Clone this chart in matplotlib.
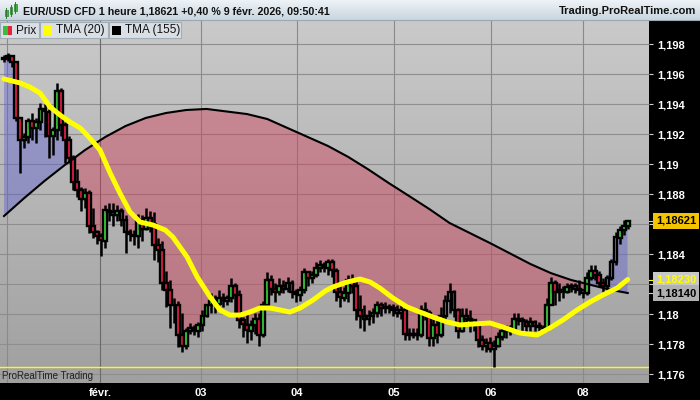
import matplotlib
matplotlib.use("Agg")
import matplotlib.pyplot as plt
import matplotlib.transforms as mtransforms
import numpy as np
from matplotlib.colors import LinearSegmentedColormap
from matplotlib.patches import Polygon, Rectangle

plt.rcParams["font.family"] = ["Liberation Sans", "DejaVu Sans"]

W, H = 700, 400

# hourly EUR/USD candles (open = previous close)
first_open = 1.1970
close = [
    1.1971, 1.1972, 1.1968, 1.1931, 1.1916, 1.1918, 1.1929, 1.1924, 1.1928, 1.1937,
    1.1935, 1.1919, 1.1923, 1.1949, 1.1926, 1.1916, 1.1904, 1.1888, 1.1883, 1.1877,
    1.1881, 1.1859, 1.1855, 1.1852, 1.1849, 1.1869, 1.1868, 1.1866, 1.1869, 1.1863,
    1.1855, 1.1853, 1.1852, 1.1863, 1.1857, 1.1864, 1.1860, 1.1846, 1.1843, 1.1821,
    1.1816, 1.1806, 1.1806, 1.1786, 1.1779, 1.1789, 1.1791, 1.1789, 1.1793, 1.1799,
    1.1806, 1.1809, 1.1807, 1.1811, 1.1809, 1.1811, 1.1819, 1.1813, 1.1796, 1.1793,
    1.1789, 1.1793, 1.1797, 1.1786, 1.1806, 1.1823, 1.1817, 1.1815, 1.1819, 1.1817,
    1.1821, 1.1815, 1.1813, 1.1816, 1.1828, 1.1824, 1.1826, 1.1831, 1.1833, 1.1831,
    1.1835, 1.1829, 1.1815, 1.1811, 1.1814, 1.1823, 1.1819, 1.1803, 1.1799, 1.1797,
    1.1799, 1.1801, 1.1806, 1.1804, 1.1805, 1.1804, 1.1803, 1.1801, 1.1803, 1.1787,
    1.1786, 1.1787, 1.1786, 1.1803, 1.1801, 1.1784, 1.1793, 1.1786, 1.1799, 1.1809,
    1.1815, 1.1803, 1.1789, 1.1799, 1.1797, 1.1796, 1.1793, 1.1783, 1.1779, 1.1781,
    1.1777, 1.1779, 1.1785, 1.1789, 1.1791, 1.1789, 1.1797, 1.1796, 1.1795, 1.1792,
    1.1795, 1.1792, 1.1791, 1.1791, 1.1806, 1.1821, 1.1815, 1.1816, 1.1815, 1.1818,
    1.1819, 1.1817, 1.1816, 1.1814, 1.1824, 1.1829, 1.1826, 1.1821, 1.1819, 1.1824,
    1.1835, 1.1851, 1.1856, 1.1859, 1.18621,
]
high = [
    1.1973, 1.1974, 1.1973, 1.1969, 1.1931, 1.1921, 1.1931, 1.1934, 1.1931, 1.1941,
    1.1940, 1.1937, 1.1925, 1.1954, 1.1951, 1.1928, 1.1919, 1.1906, 1.1897, 1.1885,
    1.1884, 1.1883, 1.1871, 1.1856, 1.1854, 1.1873, 1.1874, 1.1874, 1.1873, 1.1871,
    1.1866, 1.1857, 1.1856, 1.1867, 1.1866, 1.1871, 1.1869, 1.1868, 1.1851, 1.1849,
    1.1829, 1.1823, 1.1811, 1.1809, 1.1801, 1.1791, 1.1794, 1.1793, 1.1795, 1.1803,
    1.1807, 1.1814, 1.1813, 1.1816, 1.1814, 1.1813, 1.1824, 1.1821, 1.1816, 1.1798,
    1.1801, 1.1796, 1.1801, 1.1801, 1.1809, 1.1828, 1.1826, 1.1821, 1.1824, 1.1823,
    1.1825, 1.1823, 1.1817, 1.1819, 1.1831, 1.1829, 1.1829, 1.1835, 1.1836, 1.1835,
    1.1837, 1.1837, 1.1831, 1.1819, 1.1818, 1.1826, 1.1827, 1.1823, 1.1813, 1.1806,
    1.1803, 1.1804, 1.1809, 1.1808, 1.1808, 1.1807, 1.1807, 1.1806, 1.1806, 1.1805,
    1.1791, 1.1791, 1.1791, 1.1806, 1.1808, 1.1803, 1.1797, 1.1798, 1.1805, 1.1813,
    1.1821, 1.1816, 1.1804, 1.1804, 1.1804, 1.1803, 1.1797, 1.1794, 1.1786, 1.1784,
    1.1785, 1.1783, 1.1788, 1.1793, 1.1793, 1.1793, 1.1801, 1.1801, 1.1798, 1.1797,
    1.1798, 1.1796, 1.1795, 1.1793, 1.1811, 1.1825, 1.1823, 1.1821, 1.1819, 1.1821,
    1.1821, 1.1821, 1.1823, 1.1817, 1.1828, 1.1833, 1.1833, 1.1829, 1.1824, 1.1826,
    1.1837, 1.1855, 1.1859, 1.1863, 1.1863,
]
low = [
    1.1968, 1.1969, 1.1965, 1.1929, 1.1894, 1.1911, 1.1914, 1.1916, 1.1914, 1.1923,
    1.1918, 1.1904, 1.1906, 1.1916, 1.1919, 1.1901, 1.1901, 1.1883, 1.1878, 1.1869,
    1.1871, 1.1854, 1.1851, 1.1847, 1.1839, 1.1844, 1.1862, 1.1859, 1.1862, 1.1859,
    1.1841, 1.1849, 1.1846, 1.1844, 1.1849, 1.1856, 1.1855, 1.1836, 1.1835, 1.1816,
    1.1805, 1.1791, 1.1794, 1.1778, 1.1775, 1.1777, 1.1787, 1.1786, 1.1785, 1.1789,
    1.1798, 1.1801, 1.1801, 1.1806, 1.1805, 1.1806, 1.1808, 1.1801, 1.1791, 1.1785,
    1.1781, 1.1783, 1.1787, 1.1779, 1.1785, 1.1806, 1.1813, 1.1808, 1.1813, 1.1814,
    1.1815, 1.1811, 1.1808, 1.1809, 1.1814, 1.1819, 1.1821, 1.1825, 1.1828, 1.1828,
    1.1826, 1.1825, 1.1809, 1.1805, 1.1809, 1.1808, 1.1814, 1.1796, 1.1791, 1.1789,
    1.1793, 1.1794, 1.1798, 1.1799, 1.1801, 1.1801, 1.1799, 1.1798, 1.1797, 1.1783,
    1.1783, 1.1784, 1.1783, 1.1785, 1.1796, 1.1779, 1.1779, 1.1781, 1.1785, 1.1796,
    1.1801, 1.1798, 1.1784, 1.1788, 1.1793, 1.1788, 1.1789, 1.1778, 1.1776, 1.1775,
    1.1775, 1.1765, 1.1778, 1.1783, 1.1784, 1.1786, 1.1788, 1.1793, 1.1789, 1.1788,
    1.1789, 1.1789, 1.1789, 1.1789, 1.1789, 1.1806, 1.1806, 1.1809, 1.1811, 1.1814,
    1.1815, 1.1814, 1.1813, 1.1811, 1.1813, 1.1823, 1.1823, 1.1818, 1.1815, 1.1816,
    1.1823, 1.1833, 1.1847, 1.1853, 1.1857,
]

# moving averages, read at points along each curve (x in candle units)
tma20_idx = [0, 4, 6.4, 8.9, 11.4, 13.8, 16.3, 18.8, 21.2, 23.7, 26.2, 28.6, 31.1, 33.6,
             36.8, 39.8, 41.7, 45.2, 47.7, 50.9, 53.3, 55.8, 58.3, 60.7, 63.2, 65.7, 68.1,
             70.6, 73.1, 76.3, 79.3, 81.2, 84.7, 87.9, 90.4, 92.8, 96.0, 99.5, 102.7, 105.9,
             109.4, 112.6, 115.8, 120.0, 123.2, 127.4, 131.6, 134.8, 138.0, 141.5, 144.7,
             147.9, 151.4, 154]
tma20 = [1.19567, 1.19540, 1.19513, 1.19473, 1.19380, 1.19327, 1.19280, 1.19240, 1.19173,
         1.19093, 1.18940, 1.18807, 1.18680, 1.18613, 1.18593, 1.18560, 1.18513, 1.18380,
         1.18247, 1.18113, 1.18027, 1.17993, 1.17993, 1.18013, 1.18040, 1.18040, 1.18027,
         1.18013, 1.18040, 1.18093, 1.18153, 1.18180, 1.18213, 1.18233, 1.18213, 1.18173,
         1.18107, 1.18047, 1.18013, 1.17980, 1.17947, 1.17927, 1.17933, 1.17940, 1.17913,
         1.17873, 1.17860, 1.17907, 1.17960, 1.18027, 1.18080, 1.18127, 1.18173, 1.18230]
tma155_idx = [0, 5, 10, 15, 20, 25, 30, 35, 40, 45, 50, 55, 60, 65, 70, 75, 80, 85, 90,
              95, 100, 105, 110, 115, 120, 125, 130, 135, 140, 145, 150, 154]
tma155 = [1.18653, 1.18773, 1.18887, 1.18993, 1.19093, 1.19180, 1.19253, 1.19307, 1.19340,
          1.19360, 1.19367, 1.19350, 1.19333, 1.19300, 1.19240, 1.19180, 1.19120, 1.19047,
          1.18963, 1.18873, 1.18787, 1.18700, 1.18607, 1.18540, 1.18473, 1.18403, 1.18333,
          1.18273, 1.18227, 1.18193, 1.18160, 1.18140]

low_line = 1.17647
day_ticks = [0.75, 23.7, 48.6, 72.35, 96.3, 120.25, 143.0]
day_labels = ["", "févr.", "03", "04", "05", "06", "08"]
price_ticks = [1.176, 1.178, 1.180, 1.182, 1.184, 1.186, 1.188, 1.190, 1.192, 1.194, 1.196, 1.198]
covered_ticks = [1.182, 1.186]
last_close, last_tma20, last_tma155 = 1.18621, 1.18230, 1.18140

XLIM = (-0.99, 159.26)
YLIM = (1.1754, 1.1996)


def px_rect(fig, x0, y0, x1, y1, **kw):
    r = Rectangle((x0 / W, 1 - y1 / H), (x1 - x0) / W, (y1 - y0) / H,
                  transform=fig.transFigure, **kw)
    fig.add_artist(r)
    return r


def fmt_price(v):
    return f"{v:.3f}".rstrip("0").replace(".", ",")


fig = plt.figure(figsize=(W / 100, H / 100), dpi=100, facecolor="black")

# ---- main price panel
ax = fig.add_axes([0, 17 / H, 649 / W, 363 / H])
bg = LinearSegmentedColormap.from_list("bg", ["#a0a0a0", "#cacaca"])
ax.imshow(np.linspace(0, 1, 256)[:, None], extent=[*XLIM, *YLIM], origin="lower",
          aspect="auto", cmap=bg, zorder=0, interpolation="bilinear")

for p in price_ticks:
    ax.axhline(p, color="#8e8e8e", lw=0.8, zorder=0.5)
for x, lab in zip(day_ticks, day_labels):
    ax.axvline(x, color="#6a6a6a" if lab == "févr." else "#8a8a8a", lw=0.8, zorder=0.5)

xs = np.arange(len(close))
opens = np.array([first_open] + close[:-1])
close_a = np.array(close)

# area between price and TMA(155): blue above, red below
band = list(zip(xs, close)) + list(zip(tma155_idx[::-1], tma155[::-1]))
above = Polygon(list(zip(tma155_idx, tma155)) + [(tma155_idx[-1], YLIM[1]), (tma155_idx[0], YLIM[1])],
                closed=True, transform=ax.transData)
below = Polygon(list(zip(tma155_idx, tma155)) + [(tma155_idx[-1], YLIM[0]), (tma155_idx[0], YLIM[0])],
                closed=True, transform=ax.transData)
for clip, col in [(above, (0.36, 0.36, 0.82, 0.42)), (below, (0.82, 0.22, 0.33, 0.42))]:
    patch = Polygon(band, closed=True, facecolor=col, edgecolor="none", zorder=1)
    ax.add_patch(patch)
    patch.set_clip_path(clip)

ax.axhline(low_line, color="#ffff00", lw=1.0, zorder=2)

# candles
colors = np.where(close_a >= opens, "#3cdc3c", "#f0204a")
ax.vlines(xs, low, high, color="black", lw=1.8, zorder=2.5)
ax.bar(xs, close_a - opens, bottom=opens, width=0.95, color=colors,
       edgecolor="black", linewidth=1.7, zorder=3)

ax.plot(tma155_idx, tma155, color="black", lw=1.5, zorder=4)
ax.plot(tma20_idx, tma20, color="#ffff00", lw=3.6, solid_capstyle="round",
        solid_joinstyle="round", zorder=5)

ax.set_xlim(*XLIM)
ax.set_ylim(*YLIM)
for s in ax.spines.values():
    s.set_visible(False)

ax.yaxis.tick_right()
ax.set_yticks(price_ticks, ["" if p in covered_ticks else fmt_price(p) for p in price_ticks])
ax.tick_params(axis="y", length=3, width=0.8, color="#cfcfcf", pad=3,
               labelcolor="white", labelsize=8)
ax.set_xticks(day_ticks, day_labels)
ax.tick_params(axis="x", length=0, pad=3.5, labelcolor="white", labelsize=8)
for lbl in ax.get_yticklabels() + ax.get_xticklabels():
    lbl.set_fontweight("bold")

trans = mtransforms.blended_transform_factory(ax.transAxes, ax.transData)
x_lab = 1 + 7 / 649
for val, fc, tc in [(last_close, "#f5c400", "black"),
                    (last_tma20, "#c8c8c8", "#ffff00"),
                    (last_tma155, "#b0b0b0", "black")]:
    ax.plot([1.0, 1 + 5 / 649], [val, val], transform=trans, clip_on=False,
            color="#ffff00" if tc == "#ffff00" else "#d0d0d0", lw=0.8)
    ax.text(x_lab, val, f"{val:.5f}".replace(".", ","), transform=trans, ha="left",
            va="center", fontsize=8, fontweight="bold", color=tc, clip_on=False, zorder=10,
            bbox=dict(boxstyle="square,pad=0.26", fc=fc, ec="none"))

fig.text(2 / W, 1 - 376 / H, "ProRealTime Trading", fontsize=7, color="#202020", va="center")

# ---- header bar
hax = fig.add_axes([0, 380 / H, 1, 20 / H])
hdr = LinearSegmentedColormap.from_list("hdr", ["#c9d5df", "#eef3f7"])
hax.imshow(np.linspace(0, 1, 64)[:, None], extent=[0, 1, 0, 1], origin="lower",
           aspect="auto", cmap=hdr, interpolation="bilinear")
hax.set_axis_off()
fig.add_artist(plt.Line2D([0, 1], [1 - 20 / H, 1 - 20 / H], transform=fig.transFigure,
                          color="#9aa6b0", lw=0.8))

# small candlestick icon
for x0, y0, y1 in [(5, 10, 16), (9.5, 7, 14), (14, 4, 11)]:
    fig.add_artist(plt.Line2D([(x0 + 1) / W] * 2, [1 - (y0 - 2) / H, 1 - (y1 + 2) / H],
                              transform=fig.transFigure, color="#2e7d2e", lw=0.7))
    px_rect(fig, x0, y0, x0 + 2.5, y1, facecolor="#40b040", edgecolor="#2e7d2e", lw=0.5)

fig.text(23 / W, 1 - 11.5 / H, "EUR/USD CFD 1 heure 1,18621 +0,40 % 9 févr. 2026, 09:50:41",
         fontsize=7.7, fontweight="bold", color="#111111", va="center")
fig.text(696 / W, 1 - 11.5 / H, "Trading.ProRealTime.com", fontsize=8, fontweight="bold",
         color="#111111", va="center", ha="right")

# ---- legend chips
for x0, x1, label, chip in [(0, 39, "Prix", None), (40, 108, "TMA (20)", "#ffff00"),
                            (109, 181, "TMA (155)", "#000000")]:
    px_rect(fig, x0, 22, x1, 38, facecolor="#d9dfe5", edgecolor="#a3adb6", lw=0.8)
    if chip is None:
        px_rect(fig, x0 + 3, 26, x0 + 7.5, 35, facecolor="#3cbc3c", edgecolor="none")
        px_rect(fig, x0 + 7.5, 26, x0 + 12, 35, facecolor="#e8203c", edgecolor="none")
    else:
        px_rect(fig, x0 + 3, 26, x0 + 12, 35, facecolor=chip, edgecolor="none")
    fig.text((x0 + 16) / W, 1 - 30.5 / H, label, fontsize=8.5, color="#111111", va="center")

fig.savefig("out.png", dpi=100, facecolor="black")
